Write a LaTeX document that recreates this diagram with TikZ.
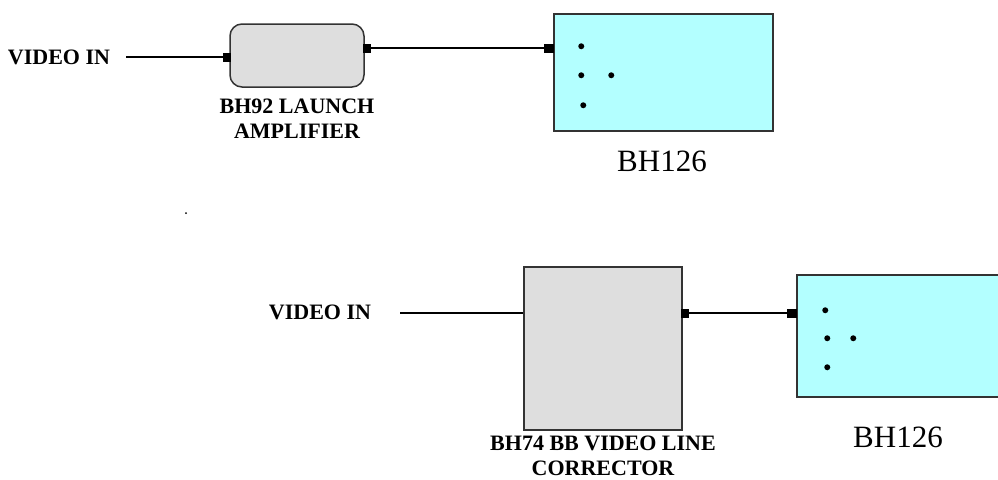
\documentclass[tikz,border=0pt]{standalone}
\usepackage{fontspec}
\setmainfont{Liberation Serif}
\usetikzlibrary{positioning}
\definecolor{monfill}{HTML}{B3FFFF}
\definecolor{boxgray}{HTML}{DEDEDE}
\definecolor{edge}{HTML}{333333}
\tikzset{
    lbl/.style={font=\fontsize{22}{25}\selectfont\bfseries, align=center, inner sep=0pt},
    monlbl/.style={font=\fontsize{31}{36}\selectfont, inner sep=0pt},
    unitbox/.style={draw=edge, line width=1.5pt, fill=boxgray, inner sep=0pt},
    monbox/.style={draw=edge, line width=1.5pt, fill=monfill, inner sep=0pt},
    port/.style={fill=black, inner sep=0pt, minimum width=8pt, minimum height=9pt},
    wire/.style={line width=1.2pt}
}
\begin{document}
\begin{tikzpicture}[x=1pt, y=-1pt]
    \useasboundingbox (0,0) rectangle (998,479);
    \clip (0,0) rectangle (998,479);

    % 1. Launch amplifier
    \node[lbl] (vin1) at (59,57) {VIDEO IN};
    \coordinate (in1) at (126,57);
    \node[unitbox, rounded corners=12pt, minimum width=134pt, minimum height=63pt] (amp) at (297,55.5) {};
    \node[lbl] (amplbl) at (297,119) {BH92 LAUNCH\\AMPLIFIER};
    \node[port] (p1) at (227,57) {};
    \node[port] (p2) at (367,48) {};

    % 2. Monitor BH126 (top)
    \node[monbox, minimum width=219pt, minimum height=117pt] (mon1) at (663.5,72.5) {};
    \node[port, minimum width=10pt] (p3) at (549,48) {};
    \node[monlbl] (mon1lbl) at (662,161) {BH126};
    \foreach \dx/\dy in {28/33, 28/62, 58/62, 30/92} {
        \fill ([shift={(\dx,\dy)}]mon1.north west) circle (3pt);
    }

    \draw[wire] (in1) -- (p1);
    \draw[wire] (p2) -- (p3);

    \fill (186,213) circle (1pt);

    % 3. Video line corrector
    \node[lbl] (vin2) at (320,312) {VIDEO IN};
    \coordinate (in2) at (400,313);
    \node[unitbox, minimum width=158pt, minimum height=163pt] (cor) at (603,348.5) {};
    \node[lbl] (corlbl) at (603,456) {BH74 BB VIDEO LINE\\CORRECTOR};
    \node[port] (p4) at (685,313) {};

    % 4. Monitor BH126 (bottom)
    \node[monbox, minimum width=219pt, minimum height=122pt] (mon2) at (906.5,336) {};
    \node[port, minimum width=10pt] (p5) at (792,313) {};
    \node[monlbl] (mon2lbl) at (898,437) {BH126};
    \foreach \dx/\dy in {29/36, 31/64, 57/64, 31/93} {
        \fill ([shift={(\dx,\dy)}]mon2.north west) circle (3pt);
    }

    \draw[wire] (in2) -- (cor.west |- in2);
    \draw[wire] (p4) -- (p5);
\end{tikzpicture}
\end{document}
